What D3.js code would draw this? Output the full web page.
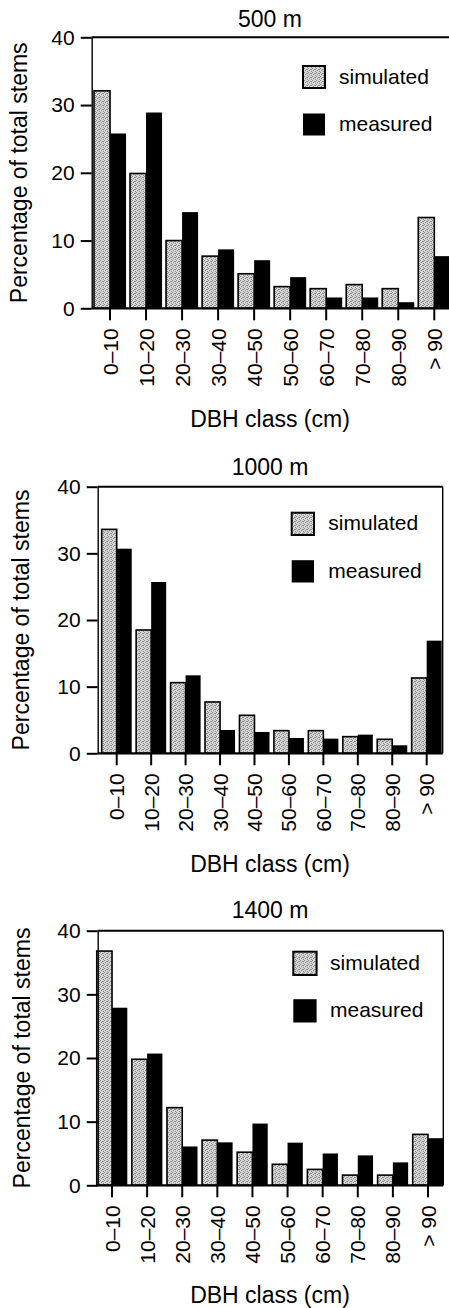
<!DOCTYPE html>
<html>
<head>
<meta charset="utf-8">
<script src="https://cdn.jsdelivr.net/npm/d3@7"></script>
<style>
  body { margin: 0; background: #fff; }
  svg { display: block; }
  text { font-family: "Liberation Sans", Arial, Helvetica, sans-serif; fill: #000; }
</style>
</head>
<body>
<div id="chart"></div>
<script>
const dbhClasses = ["0–10", "10–20", "20–30", "30–40", "40–50", "50–60", "60–70", "70–80", "80–90", "> 90"];
const yTicks = [0, 10, 20, 30, 40];
const panelTitles = ["500 m", "1000 m", "1400 m"];
const seriesNames = ["simulated", "measured"];

const sim500 = [32.1, 19.9, 10.0, 7.7, 5.1, 3.2, 2.9, 3.5, 2.9, 13.4];
const meas500 = [25.8, 28.9, 14.2, 8.7, 7.1, 4.6, 1.6, 1.6, 0.9, 7.7];
const sim1000 = [33.6, 18.5, 10.6, 7.7, 5.7, 3.4, 3.4, 2.5, 2.1, 11.3];
const meas1000 = [30.7, 25.7, 11.7, 3.5, 3.2, 2.3, 2.2, 2.8, 1.2, 16.9];
const sim1400 = [36.8, 19.8, 12.2, 7.1, 5.2, 3.3, 2.5, 1.6, 1.6, 8.0];
const meas1400 = [27.9, 20.7, 6.1, 6.75, 9.7, 6.7, 5.0, 4.7, 3.6, 7.4];

const width = 449, height = 1308;

// per-panel frame placement (the scan is not perfectly regular)
const layout = [
  {top: 37.3, base: 308.3, left: 91.7, right: 452, groups: [94, 450.3], pad: 0.111,
   titleY: 26.7, legX: 303, legY: 66, sw: 22, legTextX: 339, xTitleY: 427.3, yTitleX: 27.3},
  {top: 486.7, base: 753.3, left: 97.7, right: 442.7, groups: [101.7, 441.7], pad: 0.128,
   titleY: 475, legX: 291.7, legY: 512.7, sw: 22.3, legTextX: 328.3, xTitleY: 871.7, yTitleX: 29},
  {top: 930.7, base: 1185.3, left: 97.7, right: 443.3, groups: [96.75, 443.25], pad: 0.13,
   titleY: 918.3, legX: 293.3, legY: 951.7, sw: 23.3, legTextX: 330, xTitleY: 1303, yTitleX: 29.6}
];

const simSets = [sim500, sim1000, sim1400];
const measSets = [meas500, meas1000, meas1400];

const svg = d3.select("#chart").append("svg")
    .attr("width", width)
    .attr("height", height);

// stippled grey fill for the simulated bars
const pat = svg.append("defs").append("pattern")
    .attr("id", "stipple")
    .attr("width", 4).attr("height", 4)
    .attr("patternUnits", "userSpaceOnUse");
pat.append("rect").attr("width", 4).attr("height", 4).attr("fill", "#d6d6d6");
[[0, 0], [2, 1], [1, 2], [3, 3], [3, 1]].forEach(p => {
  pat.append("rect").attr("x", p[0]).attr("y", p[1])
      .attr("width", 1).attr("height", 1).attr("fill", "#8a8a8a");
});

function drawPanel(i) {
  const L = layout[i];
  const sim = simSets[i], meas = measSets[i];
  const g = svg.append("g");

  const x = d3.scaleBand()
      .domain(dbhClasses)
      .range(L.groups)
      .paddingInner(L.pad)
      .paddingOuter(0);

  const y = d3.scaleLinear()
      .domain([0, 40])
      .range([L.base, L.top]);

  const half = x.bandwidth() / 2;

  // simulated bars
  g.append("g").selectAll("rect")
      .data(sim)
      .join("rect")
      .attr("x", (d, j) => x(dbhClasses[j]))
      .attr("y", d => y(d))
      .attr("width", half)
      .attr("height", d => y(0) - y(d))
      .attr("fill", "url(#stipple)")
      .attr("stroke", "#000")
      .attr("stroke-width", 1.6);

  // measured bars
  g.append("g").selectAll("rect")
      .data(meas)
      .join("rect")
      .attr("x", (d, j) => x(dbhClasses[j]) + half)
      .attr("y", d => y(d))
      .attr("width", half)
      .attr("height", d => y(0) - y(d))
      .attr("fill", "#000");

  // frame: thick top, thin right
  g.append("line")
      .attr("x1", L.left).attr("x2", Math.min(L.right, width + 5))
      .attr("y1", L.top).attr("y2", L.top)
      .attr("stroke", "#000").attr("stroke-width", 2);
  g.append("line")
      .attr("x1", L.right).attr("x2", L.right)
      .attr("y1", L.top).attr("y2", L.base)
      .attr("stroke", "#000").attr("stroke-width", 1.4);

  // y axis
  const yAxis = g.append("g")
      .attr("transform", "translate(" + L.left + ",0)")
      .call(d3.axisLeft(y).tickValues(yTicks).tickSize(11).tickSizeOuter(0).tickPadding(6));
  yAxis.select(".domain").attr("stroke-width", 1.4);
  yAxis.selectAll(".tick line").attr("stroke-width", 2);
  yAxis.selectAll(".tick text")
      .style("font-size", "21px")
      .attr("font-family", null);

  // x axis (ticks sit in the middle of each group)
  const xAxis = g.append("g")
      .attr("transform", "translate(0," + L.base + ")")
      .call(d3.axisBottom(x).tickSize(12).tickSizeOuter(0));
  xAxis.select(".domain")
      .attr("d", "M" + L.left + ",0H" + Math.min(L.right, width + 5))
      .attr("stroke-width", 2.2);
  xAxis.selectAll(".tick line").attr("stroke-width", 2);
  xAxis.selectAll(".tick text")
      .style("font-size", "21px")
      .attr("font-family", null)
      .attr("text-anchor", "end")
      .attr("transform", "rotate(-90)")
      .attr("x", -20)
      .attr("y", 0)
      .attr("dy", "0.36em");

  // titles
  g.append("text")
      .attr("x", 270).attr("y", L.titleY)
      .attr("text-anchor", "middle")
      .style("font-size", "23px")
      .text(panelTitles[i]);

  g.append("text")
      .attr("x", 270).attr("y", L.xTitleY)
      .attr("text-anchor", "middle")
      .style("font-size", "23px")
      .text("DBH class (cm)");

  g.append("text")
      .attr("transform", "translate(" + L.yTitleX + "," + ((L.top + L.base) / 2) + ") rotate(-90)")
      .attr("text-anchor", "middle")
      .style("font-size", "23px")
      .text("Percentage of total stems");

  // legend
  const gap = 47.5;
  seriesNames.forEach((name, k) => {
    const sy = L.legY + k * gap;
    g.append("rect")
        .attr("x", L.legX).attr("y", sy)
        .attr("width", L.sw).attr("height", L.sw)
        .attr("fill", k === 0 ? "url(#stipple)" : "#000")
        .attr("stroke", "#000")
        .attr("stroke-width", k === 0 ? 2 : 0);
    g.append("text")
        .attr("x", L.legTextX).attr("y", sy + L.sw / 2 + 6.5)
        .style("font-size", "21px")
        .text(name);
  });
}

[0, 1, 2].forEach(drawPanel);
</script>
</body>
</html>
